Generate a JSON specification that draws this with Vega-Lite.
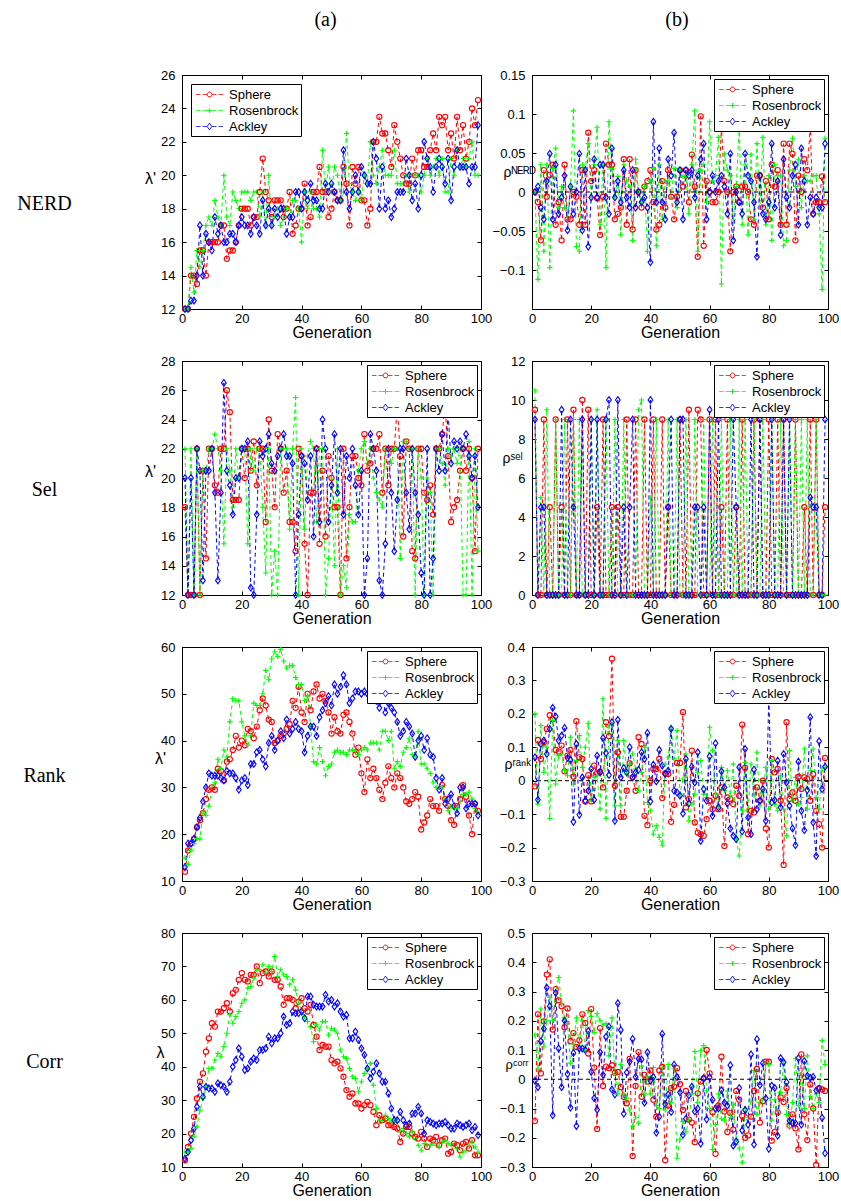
{
"$schema":"https://vega.github.io/schema/vega-lite/v6.json",
"padding":0,
"background":"white",
"config":{
"font":"Liberation Sans",
"view":{"stroke":"black","strokeWidth":1},
"axis":{"grid":false,"tickSize":-4,"tickColor":"black","tickWidth":1,"domainColor":"black","domainWidth":1,"labelFont":"Liberation Sans","labelFontSize":13,"labelColor":"black","titleFont":"Liberation Sans","titleFontSize":16,"titleFontWeight":"normal","titleColor":"black","labelFlush":false,"labelOverlap":false},
"axisX":{"labelPadding":7,"titlePadding":-1},
"axisY":{"labelPadding":11,"titleAngle":0,"titleAlign":"center","titleBaseline":"middle"},
"legend":{"padding":2,"strokeColor":"black","fillColor":"white","cornerRadius":0,"labelFont":"Liberation Sans","labelFontSize":13,"labelColor":"black","symbolSize":256,"symbolStrokeWidth":1,"rowPadding":0,"symbolOffset":8,"labelOffset":11,"offset":4}
},
"datasets":{
"n1":[{"g":1,"S":12,"R":12,"A":12},{"g":2,"S":12,"R":12,"A":12},{"g":3,"S":14,"R":14.5,"A":12.5},{"g":4,"S":14,"R":13,"A":12.5},{"g":5,"S":13.5,"R":15.5,"A":14},{"g":6,"S":15.5,"R":14.5,"A":17},{"g":7,"S":15.5,"R":15.5,"A":14},{"g":8,"S":14,"R":17,"A":16.5},{"g":9,"S":16,"R":17.5,"A":16},{"g":10,"S":16,"R":17,"A":15.5},{"g":11,"S":16,"R":18.5,"A":17.5},{"g":12,"S":16,"R":17.5,"A":16.5},{"g":13,"S":17,"R":17,"A":17},{"g":14,"S":17,"R":20,"A":16},{"g":15,"S":15,"R":17.5,"A":16},{"g":16,"S":15.5,"R":17,"A":16.5},{"g":17,"S":15.5,"R":19,"A":16.5},{"g":18,"S":16,"R":18.5,"A":16},{"g":19,"S":17,"R":18,"A":17},{"g":20,"S":18,"R":19,"A":17.5},{"g":21,"S":18,"R":19,"A":17},{"g":22,"S":18,"R":19,"A":17},{"g":23,"S":17,"R":18.5,"A":16.5},{"g":24,"S":17.5,"R":19,"A":17.5},{"g":25,"S":17.5,"R":19,"A":17},{"g":26,"S":19,"R":17.5,"A":16.5},{"g":27,"S":21,"R":19,"A":18.5},{"g":28,"S":19,"R":17,"A":17},{"g":29,"S":18.5,"R":20,"A":18},{"g":30,"S":17.5,"R":17,"A":17},{"g":31,"S":18.5,"R":17.5,"A":18},{"g":32,"S":18.5,"R":18,"A":17.5},{"g":33,"S":18.5,"R":17,"A":18},{"g":34,"S":17.5,"R":17.5,"A":18},{"g":35,"S":18,"R":18,"A":16.5},{"g":36,"S":19,"R":17.5,"A":17.5},{"g":37,"S":16.5,"R":18.5,"A":17.5},{"g":38,"S":17,"R":18.5,"A":19},{"g":39,"S":18,"R":18,"A":19},{"g":40,"S":18,"R":16,"A":18},{"g":41,"S":19.5,"R":19,"A":19},{"g":42,"S":17,"R":18,"A":18.5},{"g":43,"S":17.5,"R":19,"A":19.5},{"g":44,"S":19,"R":18,"A":18.5},{"g":45,"S":19,"R":18,"A":18.5},{"g":46,"S":20.5,"R":17.5,"A":18},{"g":47,"S":19,"R":21.5,"A":18},{"g":48,"S":19,"R":19,"A":19.5},{"g":49,"S":17.5,"R":20.5,"A":19},{"g":50,"S":18,"R":19,"A":19.5},{"g":51,"S":19,"R":20.5,"A":19},{"g":52,"S":18.5,"R":20,"A":18.5},{"g":53,"S":18.5,"R":18.5,"A":18.5},{"g":54,"S":20.5,"R":19,"A":21.5},{"g":55,"S":19.5,"R":22.5,"A":19},{"g":56,"S":17,"R":19.5,"A":18},{"g":57,"S":20.5,"R":19,"A":19},{"g":58,"S":19.5,"R":18.5,"A":20},{"g":59,"S":20.5,"R":19,"A":19},{"g":60,"S":18.5,"R":18.5,"A":20.5},{"g":61,"S":18.5,"R":20,"A":20},{"g":62,"S":17,"R":19.5,"A":19.5},{"g":63,"S":18,"R":22,"A":19.5},{"g":64,"S":22,"R":20,"A":22},{"g":65,"S":22,"R":19.5,"A":21},{"g":66,"S":23.5,"R":20.5,"A":18},{"g":67,"S":22.5,"R":21.5,"A":20.5},{"g":68,"S":22.5,"R":20,"A":18},{"g":69,"S":21.5,"R":20,"A":18.5},{"g":70,"S":20.5,"R":20,"A":17.5},{"g":71,"S":23,"R":21.5,"A":18},{"g":72,"S":22,"R":19.5,"A":19},{"g":73,"S":21,"R":19.5,"A":19},{"g":74,"S":20,"R":19.5,"A":19},{"g":75,"S":19.5,"R":20,"A":21},{"g":76,"S":19.5,"R":19,"A":20},{"g":77,"S":21,"R":20,"A":18.5},{"g":78,"S":20,"R":20,"A":19.5},{"g":79,"S":21.5,"R":20,"A":18},{"g":80,"S":21.5,"R":19,"A":20},{"g":81,"S":20.5,"R":20,"A":22},{"g":82,"S":20.5,"R":21,"A":21},{"g":83,"S":21.5,"R":20,"A":20.5},{"g":84,"S":22.5,"R":20.5,"A":19},{"g":85,"S":21.5,"R":21,"A":20.5},{"g":86,"S":23.5,"R":20,"A":21},{"g":87,"S":23,"R":21,"A":20.5},{"g":88,"S":23.5,"R":19,"A":19.5},{"g":89,"S":21.5,"R":19,"A":21},{"g":90,"S":22.5,"R":21,"A":18.5},{"g":91,"S":21,"R":20,"A":20.5},{"g":92,"S":23.5,"R":21.5,"A":21.5},{"g":93,"S":21.5,"R":20.5,"A":20.5},{"g":94,"S":23,"R":21,"A":20.5},{"g":95,"S":21,"R":20.5,"A":20.5},{"g":96,"S":22,"R":21,"A":19.5},{"g":97,"S":24,"R":22,"A":20.5},{"g":98,"S":23,"R":20,"A":20.5},{"g":99,"S":24.5,"R":20,"A":23}],
"n2":[{"g":1,"S":0,"R":0,"A":0},{"g":2,"S":-0.013,"R":-0.112,"A":0.007},{"g":3,"S":-0.062,"R":0.035,"A":-0.02},{"g":4,"S":0.028,"R":-0.076,"A":-0.035},{"g":5,"S":-0.006,"R":0.035,"A":0.014},{"g":6,"S":0.022,"R":-0.097,"A":0.049},{"g":7,"S":0.035,"R":0.03,"A":-0.035},{"g":8,"S":-0.042,"R":0.056,"A":0.035},{"g":9,"S":-0.013,"R":-0.02,"A":-0.028},{"g":10,"S":-0.062,"R":0.007,"A":-0.007},{"g":11,"S":0.035,"R":-0.02,"A":0.021},{"g":12,"S":-0.035,"R":-0.035,"A":-0.049},{"g":13,"S":-0.035,"R":0.007,"A":0.007},{"g":14,"S":0,"R":0.104,"A":-0.028},{"g":15,"S":-0.006,"R":-0.07,"A":0},{"g":16,"S":-0.042,"R":-0.076,"A":0.049},{"g":17,"S":0.028,"R":0.035,"A":-0.049},{"g":18,"S":-0.042,"R":0.03,"A":0.028},{"g":19,"S":0.076,"R":0.062,"A":-0.07},{"g":20,"S":0.014,"R":-0.007,"A":-0.007},{"g":21,"S":0.028,"R":0.035,"A":0.042},{"g":22,"S":-0.008,"R":0.083,"A":-0.007},{"g":23,"S":-0.055,"R":-0.042,"A":0.035},{"g":24,"S":-0.006,"R":0.035,"A":0.035},{"g":25,"S":0.062,"R":-0.097,"A":-0.007},{"g":26,"S":0.035,"R":0.09,"A":-0.028},{"g":27,"S":0.035,"R":0.03,"A":0.056},{"g":28,"S":-0.035,"R":-0.007,"A":-0.007},{"g":29,"S":-0.028,"R":0.02,"A":0.014},{"g":30,"S":-0.02,"R":-0.055,"A":-0.013},{"g":31,"S":0.042,"R":0.035,"A":0.028},{"g":32,"S":-0.042,"R":0.014,"A":-0.007},{"g":33,"S":0.042,"R":0.007,"A":-0.02},{"g":34,"S":-0.048,"R":-0.062,"A":0.028},{"g":35,"S":0.028,"R":0.042,"A":-0.02},{"g":36,"S":0,"R":0,"A":0},{"g":37,"S":-0.02,"R":-0.013,"A":-0.013},{"g":38,"S":0.007,"R":0.007,"A":-0.007},{"g":39,"S":0.014,"R":-0.076,"A":-0.02},{"g":40,"S":0.028,"R":0.014,"A":-0.09},{"g":41,"S":-0.013,"R":0.03,"A":0.09},{"g":42,"S":-0.048,"R":-0.069,"A":-0.013},{"g":43,"S":-0.042,"R":0.035,"A":0.056},{"g":44,"S":0.014,"R":-0.035,"A":-0.013},{"g":45,"S":-0.02,"R":0.014,"A":-0.035},{"g":46,"S":0.028,"R":0.014,"A":0.042},{"g":47,"S":-0.006,"R":-0.007,"A":0.021},{"g":48,"S":-0.035,"R":0.03,"A":0.076},{"g":49,"S":-0.006,"R":-0.02,"A":-0.013},{"g":50,"S":0.028,"R":0.028,"A":0.028},{"g":51,"S":0.007,"R":0.02,"A":-0.035},{"g":52,"S":0.028,"R":0.02,"A":0.028},{"g":53,"S":-0.013,"R":-0.028,"A":0.021},{"g":54,"S":0.048,"R":0.035,"A":0.028},{"g":55,"S":0.007,"R":0.104,"A":-0.007},{"g":56,"S":-0.083,"R":-0.076,"A":0.021},{"g":57,"S":0.097,"R":0.028,"A":0.042},{"g":58,"S":-0.069,"R":0.035,"A":0.062},{"g":59,"S":0.014,"R":-0.013,"A":-0.035},{"g":60,"S":0,"R":0.09,"A":0},{"g":61,"S":-0.013,"R":0.014,"A":0.021},{"g":62,"S":-0.013,"R":0.021,"A":0},{"g":63,"S":0,"R":0.07,"A":0.014},{"g":64,"S":0.083,"R":-0.118,"A":0.021},{"g":65,"S":0.014,"R":0.049,"A":0.007},{"g":66,"S":0,"R":0.028,"A":-0.028},{"g":67,"S":-0.076,"R":0.021,"A":0.049},{"g":68,"S":0,"R":-0.035,"A":-0.062},{"g":69,"S":0.007,"R":0.007,"A":0},{"g":70,"S":-0.013,"R":0.083,"A":-0.013},{"g":71,"S":0.007,"R":-0.042,"A":-0.028},{"g":72,"S":0.007,"R":0.035,"A":0.049},{"g":73,"S":0,"R":-0.055,"A":0.021},{"g":74,"S":-0.035,"R":0.048,"A":0.014},{"g":75,"S":-0.042,"R":-0.035,"A":-0.013},{"g":76,"S":0.021,"R":0.062,"A":-0.083},{"g":77,"S":0.021,"R":-0.02,"A":0.021},{"g":78,"S":-0.02,"R":0.07,"A":-0.028},{"g":79,"S":0.014,"R":-0.042,"A":-0.035},{"g":80,"S":-0.035,"R":0.021,"A":-0.013},{"g":81,"S":0.035,"R":-0.062,"A":0.062},{"g":82,"S":0.007,"R":0.035,"A":-0.02},{"g":83,"S":0.028,"R":0.021,"A":0.014},{"g":84,"S":-0.042,"R":0.021,"A":-0.055},{"g":85,"S":0.062,"R":-0.069,"A":0.042},{"g":86,"S":-0.042,"R":-0.062,"A":-0.007},{"g":87,"S":0.062,"R":0.028,"A":-0.02},{"g":88,"S":0.049,"R":0.069,"A":0.021},{"g":89,"S":-0.062,"R":0.007,"A":0.035},{"g":90,"S":0.021,"R":0.042,"A":-0.042},{"g":91,"S":0,"R":-0.02,"A":0.056},{"g":92,"S":0.042,"R":0.021,"A":0.014},{"g":93,"S":0.028,"R":0.014,"A":-0.042},{"g":94,"S":0.083,"R":0.014,"A":-0.007},{"g":95,"S":-0.028,"R":0.021,"A":-0.028},{"g":96,"S":-0.013,"R":0.021,"A":-0.007},{"g":97,"S":-0.013,"R":-0.028,"A":-0.02},{"g":98,"S":0.02,"R":-0.125,"A":-0.02},{"g":99,"S":-0.013,"R":0.069,"A":0.062}],
"n3":[{"g":1,"S":18,"R":22,"A":20},{"g":2,"S":12,"R":12,"A":12},{"g":3,"S":12,"R":22,"A":20},{"g":4,"S":12,"R":12,"A":12},{"g":5,"S":22,"R":22,"A":22},{"g":6,"S":12,"R":12,"A":20.5},{"g":7,"S":20.5,"R":20.5,"A":13},{"g":8,"S":14.5,"R":20.5,"A":20.5},{"g":9,"S":22,"R":22,"A":20.5},{"g":10,"S":22,"R":22,"A":22},{"g":11,"S":19.5,"R":23,"A":19},{"g":12,"S":19,"R":22,"A":13},{"g":13,"S":22,"R":20.5,"A":19},{"g":14,"S":22,"R":15.5,"A":26.5},{"g":15,"S":26,"R":22,"A":20.5},{"g":16,"S":24.5,"R":20.5,"A":19.5},{"g":17,"S":18.5,"R":18,"A":17.5},{"g":18,"S":18.5,"R":22,"A":20},{"g":19,"S":18.5,"R":20,"A":20},{"g":20,"S":22,"R":22,"A":22},{"g":21,"S":20,"R":22,"A":22},{"g":22,"S":22,"R":15.5,"A":22.5},{"g":23,"S":20.5,"R":22,"A":12.5},{"g":24,"S":22.5,"R":20.5,"A":12},{"g":25,"S":19.5,"R":22,"A":17.5},{"g":26,"S":22,"R":22,"A":22.5},{"g":27,"S":22,"R":18,"A":21.5},{"g":28,"S":17,"R":13.5,"A":22},{"g":29,"S":24,"R":22,"A":23},{"g":30,"S":20.5,"R":12,"A":21},{"g":31,"S":18,"R":15,"A":20.5},{"g":32,"S":23,"R":12,"A":21.5},{"g":33,"S":22,"R":22,"A":22},{"g":34,"S":19,"R":22,"A":23},{"g":35,"S":20.5,"R":22,"A":21.5},{"g":36,"S":17,"R":16.5,"A":21.5},{"g":37,"S":17,"R":22,"A":21},{"g":38,"S":15,"R":25.5,"A":12},{"g":39,"S":22,"R":12,"A":17.5},{"g":40,"S":21.5,"R":22,"A":21.5},{"g":41,"S":15.5,"R":16.5,"A":21},{"g":42,"S":12,"R":21.5,"A":18.5},{"g":43,"S":19,"R":22.5,"A":21.5},{"g":44,"S":19,"R":22,"A":16},{"g":45,"S":22,"R":17,"A":22},{"g":46,"S":15.5,"R":22,"A":17},{"g":47,"S":20.5,"R":22,"A":24},{"g":48,"S":16,"R":12,"A":22},{"g":49,"S":21.5,"R":14.5,"A":17},{"g":50,"S":20,"R":20,"A":19.5},{"g":51,"S":18,"R":14,"A":23},{"g":52,"S":18,"R":22,"A":19},{"g":53,"S":12,"R":12,"A":22},{"g":54,"S":22,"R":14,"A":17.5},{"g":55,"S":14.5,"R":12.5,"A":21.5},{"g":56,"S":18,"R":17.5,"A":20},{"g":57,"S":21.5,"R":17,"A":22},{"g":58,"S":21.5,"R":17,"A":19.5},{"g":59,"S":20,"R":20.5,"A":17.5},{"g":60,"S":19.5,"R":22,"A":20.5},{"g":61,"S":23,"R":22.5,"A":12},{"g":62,"S":20.5,"R":21,"A":14.5},{"g":63,"S":21,"R":22,"A":23},{"g":64,"S":22,"R":20,"A":22},{"g":65,"S":22,"R":19,"A":20.5},{"g":66,"S":23,"R":18.5,"A":13},{"g":67,"S":19,"R":18,"A":12},{"g":68,"S":22,"R":22,"A":15.5},{"g":69,"S":19.5,"R":22,"A":22},{"g":70,"S":22,"R":21,"A":19},{"g":71,"S":22,"R":22,"A":15},{"g":72,"S":25,"R":22,"A":18.5},{"g":73,"S":21.5,"R":14.5,"A":22},{"g":74,"S":16,"R":22.5,"A":22},{"g":75,"S":22.5,"R":22.5,"A":19},{"g":76,"S":22,"R":22,"A":16.5},{"g":77,"S":15,"R":22,"A":22},{"g":78,"S":14.5,"R":12,"A":19},{"g":79,"S":22,"R":22,"A":17.5},{"g":80,"S":22,"R":20,"A":13.5},{"g":81,"S":19,"R":12,"A":12},{"g":82,"S":18.5,"R":20,"A":22},{"g":83,"S":19.5,"R":19,"A":12},{"g":84,"S":17.5,"R":12,"A":14.5},{"g":85,"S":22,"R":22,"A":22},{"g":86,"S":22,"R":22,"A":20.5},{"g":87,"S":23,"R":21,"A":23},{"g":88,"S":25,"R":19.5,"A":20.5},{"g":89,"S":21.5,"R":22,"A":24.5},{"g":90,"S":17,"R":21.5,"A":21},{"g":91,"S":18,"R":22,"A":22.5},{"g":92,"S":18.5,"R":21,"A":22},{"g":93,"S":20.5,"R":22,"A":22.5},{"g":94,"S":22,"R":12,"A":22},{"g":95,"S":20.5,"R":12,"A":23},{"g":96,"S":22,"R":22.5,"A":21.5},{"g":97,"S":20,"R":12,"A":20},{"g":98,"S":15,"R":22,"A":21.5},{"g":99,"S":22,"R":15,"A":18}],
"n4":[{"g":1,"S":9.5,"R":10.5,"A":9},{"g":2,"S":0,"R":0,"A":0},{"g":3,"S":0,"R":5,"A":4.5},{"g":4,"S":9,"R":0,"A":4.5},{"g":5,"S":0,"R":9.5,"A":0},{"g":6,"S":4.5,"R":0,"A":0},{"g":7,"S":0,"R":0,"A":0},{"g":8,"S":9,"R":9,"A":0},{"g":9,"S":0,"R":0,"A":0},{"g":10,"S":4.5,"R":0,"A":9.5},{"g":11,"S":0,"R":9,"A":0},{"g":12,"S":9,"R":0,"A":0},{"g":13,"S":0,"R":0,"A":9},{"g":14,"S":9.5,"R":9,"A":4.5},{"g":15,"S":0,"R":0,"A":0},{"g":16,"S":0,"R":9,"A":0},{"g":17,"S":10,"R":0,"A":9},{"g":18,"S":0,"R":0,"A":0},{"g":19,"S":9.5,"R":0,"A":0},{"g":20,"S":0,"R":9,"A":9},{"g":21,"S":0,"R":0,"A":0},{"g":22,"S":4.5,"R":9.5,"A":9},{"g":23,"S":0,"R":0,"A":0},{"g":24,"S":9,"R":0,"A":0},{"g":25,"S":0,"R":9,"A":9},{"g":26,"S":0,"R":0,"A":10},{"g":27,"S":4.5,"R":0,"A":0},{"g":28,"S":0,"R":9,"A":0},{"g":29,"S":4.5,"R":0,"A":10},{"g":30,"S":0,"R":0,"A":0},{"g":31,"S":0,"R":9,"A":4.5},{"g":32,"S":9,"R":0,"A":0},{"g":33,"S":0,"R":0,"A":4.5},{"g":34,"S":0,"R":0,"A":9},{"g":35,"S":9,"R":0,"A":0},{"g":36,"S":0,"R":9.5,"A":0},{"g":37,"S":0,"R":10,"A":0},{"g":38,"S":9,"R":0,"A":0},{"g":39,"S":0,"R":0,"A":0},{"g":40,"S":0,"R":5,"A":10},{"g":41,"S":9,"R":0,"A":0},{"g":42,"S":0,"R":9,"A":0},{"g":43,"S":0,"R":0,"A":0},{"g":44,"S":9,"R":0,"A":0},{"g":45,"S":0,"R":0,"A":0},{"g":46,"S":4.5,"R":9,"A":4.5},{"g":47,"S":0,"R":0,"A":9},{"g":48,"S":0,"R":0,"A":0},{"g":49,"S":0,"R":9,"A":0},{"g":50,"S":9,"R":0,"A":9},{"g":51,"S":0,"R":0,"A":9},{"g":52,"S":0,"R":9,"A":0},{"g":53,"S":9.5,"R":0,"A":0},{"g":54,"S":0,"R":0,"A":0},{"g":55,"S":0,"R":9,"A":4.5},{"g":56,"S":9.5,"R":0,"A":4.5},{"g":57,"S":9,"R":0,"A":0},{"g":58,"S":0,"R":9,"A":4.5},{"g":59,"S":0,"R":0,"A":0},{"g":60,"S":9,"R":0,"A":9.5},{"g":61,"S":0,"R":9,"A":0},{"g":62,"S":9,"R":0,"A":0},{"g":63,"S":0,"R":0,"A":9},{"g":64,"S":4.5,"R":9,"A":0},{"g":65,"S":0,"R":0,"A":0},{"g":66,"S":9,"R":0,"A":0},{"g":67,"S":0,"R":9,"A":0},{"g":68,"S":0,"R":0,"A":9},{"g":69,"S":4.5,"R":0,"A":4.5},{"g":70,"S":0,"R":9,"A":0},{"g":71,"S":9,"R":0,"A":0},{"g":72,"S":0,"R":9,"A":0},{"g":73,"S":0,"R":0,"A":0},{"g":74,"S":0,"R":0,"A":9},{"g":75,"S":9,"R":9,"A":0},{"g":76,"S":0,"R":0,"A":0},{"g":77,"S":9,"R":0,"A":9},{"g":78,"S":0,"R":9,"A":0},{"g":79,"S":0,"R":0,"A":0},{"g":80,"S":9,"R":0,"A":0},{"g":81,"S":0,"R":9,"A":9},{"g":82,"S":0,"R":0,"A":0},{"g":83,"S":9,"R":0,"A":0},{"g":84,"S":0,"R":9,"A":0},{"g":85,"S":9,"R":0,"A":9},{"g":86,"S":0,"R":0,"A":0},{"g":87,"S":0,"R":9,"A":9},{"g":88,"S":0,"R":0,"A":0},{"g":89,"S":9,"R":9,"A":0},{"g":90,"S":0,"R":0,"A":0},{"g":91,"S":0,"R":9,"A":0},{"g":92,"S":4.5,"R":0,"A":0},{"g":93,"S":0,"R":9,"A":0},{"g":94,"S":9,"R":0,"A":5},{"g":95,"S":0,"R":0,"A":4.5},{"g":96,"S":9,"R":9,"A":4.5},{"g":97,"S":0,"R":0,"A":0},{"g":98,"S":0,"R":0,"A":0},{"g":99,"S":4.5,"R":0,"A":9}],
"n5":[{"g":1,"S":12,"R":15,"A":13},{"g":2,"S":16.5,"R":13.5,"A":18},{"g":3,"S":18,"R":16.5,"A":18},{"g":4,"S":19,"R":18,"A":19},{"g":5,"S":21.5,"R":19,"A":21.5},{"g":6,"S":23,"R":19,"A":23.5},{"g":7,"S":24.5,"R":24.5,"A":27},{"g":8,"S":27.5,"R":24,"A":30},{"g":9,"S":29.5,"R":26,"A":33},{"g":10,"S":30,"R":30,"A":32.5},{"g":11,"S":29.5,"R":31,"A":32.5},{"g":12,"S":34,"R":36,"A":32.5},{"g":13,"S":33.5,"R":34,"A":32},{"g":14,"S":31.5,"R":38,"A":31.5},{"g":15,"S":35.5,"R":36.5,"A":33.5},{"g":16,"S":36,"R":44,"A":33},{"g":17,"S":38,"R":49,"A":33},{"g":18,"S":41,"R":48.5,"A":32},{"g":19,"S":38.5,"R":48.5,"A":29.5},{"g":20,"S":40,"R":44,"A":31.5},{"g":21,"S":39,"R":41,"A":32},{"g":22,"S":42.5,"R":39,"A":30.5},{"g":23,"S":42,"R":41,"A":35},{"g":24,"S":40.5,"R":48,"A":35},{"g":25,"S":43,"R":47.5,"A":37.5},{"g":26,"S":46.5,"R":47.5,"A":38},{"g":27,"S":49,"R":50,"A":36},{"g":28,"S":47.5,"R":55,"A":34.5},{"g":29,"S":44.5,"R":53,"A":39.5},{"g":30,"S":44,"R":57.5,"A":41},{"g":31,"S":39.5,"R":59,"A":38},{"g":32,"S":40,"R":58,"A":40},{"g":33,"S":41,"R":59.5,"A":42},{"g":34,"S":41.5,"R":57,"A":40.5},{"g":35,"S":42.5,"R":55.5,"A":44.5},{"g":36,"S":43.5,"R":56,"A":41.5},{"g":37,"S":48.5,"R":56,"A":42.5},{"g":38,"S":47,"R":53.5,"A":44},{"g":39,"S":51.5,"R":52,"A":42.5},{"g":40,"S":46,"R":52,"A":42},{"g":41,"S":44,"R":48.5,"A":37.5},{"g":42,"S":50,"R":49.5,"A":41},{"g":43,"S":46.5,"R":43,"A":43},{"g":44,"S":50.5,"R":35.5,"A":43},{"g":45,"S":52,"R":35,"A":41},{"g":46,"S":49,"R":38.5,"A":45},{"g":47,"S":50,"R":35.5,"A":46.5},{"g":48,"S":48.5,"R":32.5,"A":48},{"g":49,"S":46,"R":34.5,"A":49.5},{"g":50,"S":41.5,"R":35,"A":47.5},{"g":51,"S":45,"R":37.5,"A":52},{"g":52,"S":42,"R":38,"A":50},{"g":53,"S":41.5,"R":37.5,"A":51.5},{"g":54,"S":45.5,"R":37.5,"A":54},{"g":55,"S":46,"R":37,"A":52},{"g":56,"S":44,"R":38,"A":48},{"g":57,"S":41.5,"R":38,"A":49},{"g":58,"S":37,"R":38,"A":50.5},{"g":59,"S":38.5,"R":37,"A":50.5},{"g":60,"S":33,"R":38,"A":50},{"g":61,"S":29,"R":38.5,"A":50.5},{"g":62,"S":36,"R":38,"A":50},{"g":63,"S":32,"R":39.5,"A":50},{"g":64,"S":34,"R":39.5,"A":49},{"g":65,"S":32,"R":39.5,"A":48.5},{"g":66,"S":29.5,"R":38,"A":47},{"g":67,"S":27.5,"R":42,"A":49.5},{"g":68,"S":31,"R":42,"A":46},{"g":69,"S":34.5,"R":40,"A":48},{"g":70,"S":32,"R":42,"A":47},{"g":71,"S":30,"R":34,"A":46},{"g":72,"S":33,"R":35.5,"A":44},{"g":73,"S":32,"R":34.5,"A":41},{"g":74,"S":30,"R":37.5,"A":42},{"g":75,"S":27,"R":38.5,"A":44},{"g":76,"S":26.5,"R":40.5,"A":43},{"g":77,"S":27.5,"R":37,"A":41.5},{"g":78,"S":29,"R":36.5,"A":36.5},{"g":79,"S":28,"R":42,"A":40},{"g":80,"S":21,"R":35,"A":41},{"g":81,"S":22.5,"R":35,"A":38},{"g":82,"S":24,"R":34,"A":40.5},{"g":83,"S":27.5,"R":33,"A":37},{"g":84,"S":26,"R":31,"A":36.5},{"g":85,"S":26,"R":30,"A":32},{"g":86,"S":25,"R":30,"A":29.5},{"g":87,"S":30.5,"R":30,"A":32},{"g":88,"S":27.5,"R":27.5,"A":26.5},{"g":89,"S":26,"R":25,"A":27.5},{"g":90,"S":23,"R":26,"A":28.5},{"g":91,"S":22,"R":25.5,"A":26},{"g":92,"S":26,"R":25.5,"A":24.5},{"g":93,"S":27.5,"R":27,"A":30},{"g":94,"S":30.5,"R":28.5,"A":30},{"g":95,"S":28,"R":28.5,"A":25.5},{"g":96,"S":24,"R":29,"A":26.5},{"g":97,"S":20,"R":27.5,"A":26.5},{"g":98,"S":26.5,"R":25.5,"A":26.5},{"g":99,"S":25,"R":24.5,"A":24}],
"n6":[{"g":1,"S":-0.017,"R":0.2,"A":0.07},{"g":2,"S":0.122,"R":-0.07,"A":-0.057},{"g":3,"S":0.065,"R":0.165,"A":0.11},{"g":4,"S":0.115,"R":0.025,"A":0.12},{"g":5,"S":0.155,"R":0.1,"A":0.08},{"g":6,"S":0.196,"R":-0.113,"A":0.155},{"g":7,"S":0.184,"R":0.18,"A":0.218},{"g":8,"S":0.092,"R":-0.01,"A":0.192},{"g":9,"S":0.087,"R":0.075,"A":0.12},{"g":10,"S":0.105,"R":0.08,"A":0.135},{"g":11,"S":0.028,"R":0.03,"A":0.158},{"g":12,"S":0.075,"R":0.015,"A":0.068},{"g":13,"S":0.092,"R":0.13,"A":0.062},{"g":14,"S":0.012,"R":-0.01,"A":-0.123},{"g":15,"S":0.178,"R":0.06,"A":0.11},{"g":16,"S":0.07,"R":0.135,"A":-0.102},{"g":17,"S":0.065,"R":0.04,"A":0.01},{"g":18,"S":-0.062,"R":0.1,"A":-0.06},{"g":19,"S":0.017,"R":0.172,"A":-0.03},{"g":20,"S":-0.062,"R":-0.06,"A":0.035},{"g":21,"S":0.045,"R":0.01,"A":-0.057},{"g":22,"S":0.023,"R":0.015,"A":0.075},{"g":23,"S":0.027,"R":-0.085,"A":0.025},{"g":24,"S":-0.02,"R":0.245,"A":0.128},{"g":25,"S":0.175,"R":-0.113,"A":0.083},{"g":26,"S":0.133,"R":0.165,"A":0.017},{"g":27,"S":0.365,"R":0.17,"A":0.175},{"g":28,"S":-0.015,"R":-0.075,"A":-0.12},{"g":29,"S":0.085,"R":0.12,"A":0.182},{"g":30,"S":-0.108,"R":-0.075,"A":0.01},{"g":31,"S":-0.108,"R":0.12,"A":0.038},{"g":32,"S":-0.03,"R":0.02,"A":0.025},{"g":33,"S":0.052,"R":0.05,"A":0.1},{"g":34,"S":0.01,"R":0.08,"A":0.01},{"g":35,"S":-0.03,"R":0.035,"A":0.025},{"g":36,"S":0.13,"R":-0.03,"A":0.032},{"g":37,"S":0.11,"R":0.025,"A":0.085},{"g":38,"S":-0.105,"R":0.1,"A":0.065},{"g":39,"S":-0.133,"R":-0.065,"A":0.143},{"g":40,"S":0,"R":-0.09,"A":-0.062},{"g":41,"S":0.035,"R":-0.16,"A":0.048},{"g":42,"S":0.035,"R":-0.135,"A":-0.002},{"g":43,"S":0.065,"R":-0.17,"A":0.092},{"g":44,"S":-0.052,"R":-0.193,"A":0.045},{"g":45,"S":0.022,"R":0.05,"A":0.02},{"g":46,"S":0.02,"R":0.07,"A":0.03},{"g":47,"S":-0.123,"R":0.16,"A":0.155},{"g":48,"S":-0.072,"R":0.065,"A":-0.03},{"g":49,"S":0.053,"R":0.15,"A":-0.035},{"g":50,"S":0.053,"R":-0.04,"A":-0.045},{"g":51,"S":0.205,"R":0.005,"A":-0.098},{"g":52,"S":-0.08,"R":0.08,"A":0.065},{"g":53,"S":-0.055,"R":-0.12,"A":-0.068},{"g":54,"S":0.09,"R":-0.07,"A":0.042},{"g":55,"S":-0.125,"R":-0.04,"A":-0.005},{"g":56,"S":-0.155,"R":0.025,"A":0.085},{"g":57,"S":-0.16,"R":0.06,"A":-0.18},{"g":58,"S":-0.165,"R":-0.04,"A":-0.025},{"g":59,"S":-0.115,"R":-0.05,"A":-0.06},{"g":60,"S":-0.06,"R":0.16,"A":0.073},{"g":61,"S":-0.085,"R":0.09,"A":-0.105},{"g":62,"S":-0.045,"R":-0.04,"A":0.112},{"g":63,"S":-0.085,"R":-0.075,"A":-0.08},{"g":64,"S":-0.02,"R":0.04,"A":0.028},{"g":65,"S":-0.195,"R":-0.03,"A":-0.02},{"g":66,"S":-0.05,"R":0.03,"A":-0.068},{"g":67,"S":-0.055,"R":-0.045,"A":-0.143},{"g":68,"S":-0.07,"R":0.05,"A":-0.165},{"g":69,"S":-0.015,"R":-0.175,"A":-0.175},{"g":70,"S":-0.045,"R":-0.225,"A":0.04},{"g":71,"S":0.168,"R":-0.09,"A":-0.152},{"g":72,"S":0.038,"R":0.055,"A":0.095},{"g":73,"S":-0.16,"R":-0.09,"A":-0.11},{"g":74,"S":-0.09,"R":0.05,"A":-0.16},{"g":75,"S":-0.095,"R":-0.045,"A":0.033},{"g":76,"S":-0.02,"R":0.085,"A":-0.085},{"g":77,"S":-0.06,"R":-0.075,"A":-0.06},{"g":78,"S":0,"R":-0.035,"A":-0.025},{"g":79,"S":-0.143,"R":0.04,"A":-0.12},{"g":80,"S":-0.2,"R":-0.085,"A":0.25},{"g":81,"S":0.065,"R":0.06,"A":-0.065},{"g":82,"S":0.025,"R":-0.07,"A":-0.058},{"g":83,"S":0.035,"R":-0.09,"A":0.06},{"g":84,"S":-0.06,"R":0.015,"A":-0.08},{"g":85,"S":-0.252,"R":-0.085,"A":0.08},{"g":86,"S":0.175,"R":-0.165,"A":-0.005},{"g":87,"S":-0.055,"R":0.09,"A":-0.075},{"g":88,"S":-0.035,"R":-0.06,"A":-0.143},{"g":89,"S":-0.06,"R":0.01,"A":-0.193},{"g":90,"S":0.012,"R":-0.07,"A":0.057},{"g":91,"S":-0.025,"R":-0.05,"A":-0.09},{"g":92,"S":0.01,"R":0.095,"A":-0.148},{"g":93,"S":0.005,"R":-0.085,"A":-0.028},{"g":94,"S":-0.06,"R":0.03,"A":0.19},{"g":95,"S":0.02,"R":0.095,"A":-0.125},{"g":96,"S":-0.09,"R":-0.05,"A":-0.225},{"g":97,"S":-0.13,"R":-0.085,"A":0.118},{"g":98,"S":-0.2,"R":0.03,"A":-0.025},{"g":99,"S":0.068,"R":0.04,"A":0.042}],
"n7":[{"g":1,"S":12,"R":14.5,"A":12.5},{"g":2,"S":16,"R":14.5,"A":14.5},{"g":3,"S":20,"R":15.5,"A":18},{"g":4,"S":25,"R":19,"A":21.5},{"g":5,"S":30.5,"R":22,"A":28},{"g":6,"S":35.5,"R":27,"A":34},{"g":7,"S":38,"R":30.5,"A":31},{"g":8,"S":44.5,"R":34,"A":34},{"g":9,"S":48.5,"R":39.5,"A":33.5},{"g":10,"S":53,"R":39.5,"A":33.5},{"g":11,"S":52,"R":42,"A":32.5},{"g":12,"S":56.5,"R":44,"A":35},{"g":13,"S":56.5,"R":43,"A":34.5},{"g":14,"S":57.5,"R":46,"A":34},{"g":15,"S":59,"R":50,"A":32.5},{"g":16,"S":56.5,"R":55.5,"A":35.5},{"g":17,"S":62,"R":53,"A":40},{"g":18,"S":63,"R":55,"A":42},{"g":19,"S":66,"R":56.5,"A":45.5},{"g":20,"S":68,"R":59,"A":43},{"g":21,"S":66,"R":60,"A":39},{"g":22,"S":65.5,"R":63.5,"A":39.5},{"g":23,"S":67.5,"R":64,"A":41.5},{"g":24,"S":67.5,"R":66.5,"A":42.5},{"g":25,"S":70,"R":69,"A":42},{"g":26,"S":65,"R":69,"A":45},{"g":27,"S":68,"R":70.5,"A":45},{"g":28,"S":68.5,"R":68,"A":45.5},{"g":29,"S":67,"R":70,"A":49},{"g":30,"S":68.5,"R":68.5,"A":47},{"g":31,"S":66,"R":73,"A":48.5},{"g":32,"S":66,"R":67,"A":48.5},{"g":33,"S":64,"R":69,"A":50},{"g":34,"S":58.5,"R":67.5,"A":55},{"g":35,"S":60.5,"R":67,"A":52.5},{"g":36,"S":60.5,"R":64.5,"A":53},{"g":37,"S":60,"R":66,"A":56.5},{"g":38,"S":57.5,"R":63,"A":56},{"g":39,"S":59.5,"R":59,"A":56},{"g":40,"S":60.5,"R":57,"A":56.5},{"g":41,"S":57.5,"R":55,"A":54.5},{"g":42,"S":56.5,"R":53.5,"A":61},{"g":43,"S":58.5,"R":52,"A":61},{"g":44,"S":52.5,"R":47.5,"A":58.5},{"g":45,"S":49,"R":52.5,"A":58},{"g":46,"S":45,"R":51,"A":58},{"g":47,"S":46.5,"R":53.5,"A":58},{"g":48,"S":46,"R":53.5,"A":61.5},{"g":49,"S":46,"R":49.5,"A":59.5},{"g":50,"S":42,"R":51.5,"A":60},{"g":51,"S":41,"R":51,"A":58},{"g":52,"S":41.5,"R":50,"A":59},{"g":53,"S":39.5,"R":45,"A":56.5},{"g":54,"S":37,"R":43,"A":55},{"g":55,"S":33,"R":42.5,"A":55.5},{"g":56,"S":31,"R":39.5,"A":48.5},{"g":57,"S":32,"R":37,"A":48.5},{"g":58,"S":29,"R":36.5,"A":50.5},{"g":59,"S":29,"R":32.5,"A":48},{"g":60,"S":27.5,"R":35.5,"A":45.5},{"g":61,"S":28.5,"R":38,"A":43.5},{"g":62,"S":29.5,"R":39.5,"A":39.5},{"g":63,"S":28.5,"R":41,"A":36.5},{"g":64,"S":26.5,"R":34.5,"A":38.5},{"g":65,"S":22.5,"R":27.5,"A":41},{"g":66,"S":25.5,"R":23,"A":38},{"g":67,"S":24,"R":24,"A":35.5},{"g":68,"S":24.5,"R":25.5,"A":35.5},{"g":69,"S":22.5,"R":24.5,"A":32},{"g":70,"S":22.5,"R":23.5,"A":27.5},{"g":71,"S":22,"R":24,"A":24},{"g":72,"S":21.5,"R":23.5,"A":24},{"g":73,"S":17.5,"R":20.5,"A":26.5},{"g":74,"S":20,"R":21.5,"A":24},{"g":75,"S":22,"R":20,"A":22.5},{"g":76,"S":22,"R":19,"A":23},{"g":77,"S":20,"R":20.5,"A":26},{"g":78,"S":19,"R":18.5,"A":26},{"g":79,"S":18.5,"R":16.5,"A":28},{"g":80,"S":20.5,"R":15,"A":26},{"g":81,"S":18.5,"R":17,"A":20},{"g":82,"S":16,"R":16.5,"A":24},{"g":83,"S":18.5,"R":16.5,"A":23.5},{"g":84,"S":18,"R":17,"A":23},{"g":85,"S":19,"R":16.5,"A":22.5},{"g":86,"S":16.5,"R":16,"A":23},{"g":87,"S":18,"R":17.5,"A":23},{"g":88,"S":18.5,"R":18,"A":23.5},{"g":89,"S":14,"R":17,"A":22.5},{"g":90,"S":14.5,"R":16.5,"A":21.5},{"g":91,"S":17,"R":17,"A":21.5},{"g":92,"S":16.5,"R":15.5,"A":23},{"g":93,"S":15,"R":13,"A":22.5},{"g":94,"S":17,"R":14.5,"A":22},{"g":95,"S":17.5,"R":15,"A":22.5},{"g":96,"S":15.5,"R":16.5,"A":23},{"g":97,"S":18,"R":17.5,"A":21},{"g":98,"S":13.5,"R":16,"A":22},{"g":99,"S":13.5,"R":14.5,"A":19.5}],
"n8":[{"g":1,"S":-0.143,"R":0.152,"A":-0.005},{"g":2,"S":0.222,"R":0.035,"A":-0.027},{"g":3,"S":0.02,"R":0.24,"A":0.13},{"g":4,"S":0.198,"R":0.11,"A":0.173},{"g":5,"S":0.358,"R":0.2,"A":0.313},{"g":6,"S":0.41,"R":0.28,"A":0.25},{"g":7,"S":0.17,"R":0.2,"A":-0.123},{"g":8,"S":0.308,"R":0.3,"A":0.295},{"g":9,"S":0.27,"R":0.348,"A":0.105},{"g":10,"S":0.25,"R":0.26,"A":-0.027},{"g":11,"S":0.178,"R":0.21,"A":0.2},{"g":12,"S":0.242,"R":0.19,"A":0.018},{"g":13,"S":0.13,"R":0.055,"A":-0.097},{"g":14,"S":0.158,"R":0.12,"A":0.09},{"g":15,"S":0.11,"R":0.21,"A":-0.16},{"g":16,"S":0.133,"R":0.1,"A":0.105},{"g":17,"S":0.222,"R":0.2,"A":0.105},{"g":18,"S":0.192,"R":0.098,"A":0.1},{"g":19,"S":0.088,"R":0.235,"A":0.165},{"g":20,"S":0.24,"R":0.215,"A":0.025},{"g":21,"S":0.04,"R":0.16,"A":-0.065},{"g":22,"S":-0.17,"R":0.225,"A":-0.104},{"g":23,"S":0.175,"R":0.2,"A":0.092},{"g":24,"S":-0.023,"R":0.185,"A":0.015},{"g":25,"S":0.043,"R":0.19,"A":0.145},{"g":26,"S":0.038,"R":0.08,"A":0.18},{"g":27,"S":0.048,"R":0.21,"A":-0.035},{"g":28,"S":0.022,"R":0.02,"A":-0.052},{"g":29,"S":0.025,"R":-0.05,"A":0.26},{"g":30,"S":-0.027,"R":0.05,"A":0.168},{"g":31,"S":-0.06,"R":-0.05,"A":-0.118},{"g":32,"S":-0.082,"R":-0.065,"A":0.023},{"g":33,"S":0.07,"R":-0.105,"A":0.06},{"g":34,"S":-0.262,"R":-0.16,"A":0.138},{"g":35,"S":-0.023,"R":-0.13,"A":0.008},{"g":36,"S":0.093,"R":-0.15,"A":0.07},{"g":37,"S":-0.06,"R":0.045,"A":0.068},{"g":38,"S":0.015,"R":-0.05,"A":-0.08},{"g":39,"S":-0.008,"R":0.01,"A":0.092},{"g":40,"S":0.03,"R":-0.05,"A":-0.005},{"g":41,"S":-0.07,"R":0.04,"A":0.008},{"g":42,"S":-0.128,"R":-0.09,"A":-0.183},{"g":43,"S":0.03,"R":-0.1,"A":-0.128},{"g":44,"S":0.042,"R":0.04,"A":0.155},{"g":45,"S":-0.277,"R":-0.105,"A":-0.085},{"g":46,"S":-0.09,"R":0.05,"A":-0.052},{"g":47,"S":-0.03,"R":-0.08,"A":-0.112},{"g":48,"S":-0.025,"R":0.035,"A":0.05},{"g":49,"S":0.038,"R":-0.27,"A":0.007},{"g":50,"S":-0.017,"R":-0.205,"A":-0.045},{"g":51,"S":-0.105,"R":-0.145,"A":-0.19},{"g":52,"S":-0.04,"R":-0.18,"A":-0.135},{"g":53,"S":-0.138,"R":-0.14,"A":-0.055},{"g":54,"S":-0.148,"R":-0.05,"A":-0.025},{"g":55,"S":-0.215,"R":0.095,"A":-0.11},{"g":56,"S":-0.048,"R":-0.08,"A":-0.1},{"g":57,"S":-0.008,"R":0.097,"A":-0.22},{"g":58,"S":0.003,"R":0.115,"A":0.003},{"g":59,"S":0.1,"R":-0.04,"A":-0.137},{"g":60,"S":0.02,"R":-0.1,"A":0.007},{"g":61,"S":-0.113,"R":-0.24,"A":-0.07},{"g":62,"S":-0.255,"R":-0.155,"A":-0.1},{"g":63,"S":-0.09,"R":-0.05,"A":-0.1},{"g":64,"S":0.077,"R":-0.135,"A":-0.037},{"g":65,"S":-0.11,"R":-0.14,"A":-0.08},{"g":66,"S":-0.18,"R":-0.04,"A":-0.09},{"g":67,"S":-0.115,"R":-0.13,"A":0.048},{"g":68,"S":-0.172,"R":-0.085,"A":-0.227},{"g":69,"S":-0.04,"R":-0.205,"A":-0.213},{"g":70,"S":-0.07,"R":-0.235,"A":-0.03},{"g":71,"S":-0.125,"R":-0.285,"A":-0.175},{"g":72,"S":-0.2,"R":-0.1,"A":-0.105},{"g":73,"S":-0.192,"R":-0.13,"A":-0.155},{"g":74,"S":-0.128,"R":-0.075,"A":0.085},{"g":75,"S":-0.04,"R":0.03,"A":-0.223},{"g":76,"S":0.035,"R":-0.12,"A":0.137},{"g":77,"S":-0.148,"R":-0.08,"A":-0.02},{"g":78,"S":-0.075,"R":-0.07,"A":0.055},{"g":79,"S":0.06,"R":0.055,"A":-0.065},{"g":80,"S":0.06,"R":0.05,"A":-0.238},{"g":81,"S":-0.21,"R":-0.14,"A":-0.022},{"g":82,"S":-0.18,"R":-0.07,"A":-0.03},{"g":83,"S":-0.113,"R":-0.11,"A":-0.193},{"g":84,"S":-0.062,"R":-0.045,"A":0.072},{"g":85,"S":-0.078,"R":0.06,"A":0.058},{"g":86,"S":-0.03,"R":-0.12,"A":-0.01},{"g":87,"S":-0.158,"R":-0.165,"A":-0.142},{"g":88,"S":-0.12,"R":-0.08,"A":-0.15},{"g":89,"S":-0.168,"R":0.07,"A":-0.15},{"g":90,"S":-0.24,"R":-0.09,"A":0.072},{"g":91,"S":0.085,"R":0.02,"A":-0.155},{"g":92,"S":-0.12,"R":-0.1,"A":0.062},{"g":93,"S":-0.208,"R":0.08,"A":0.012},{"g":94,"S":-0.018,"R":-0.06,"A":0.005},{"g":95,"S":-0.1,"R":-0.1,"A":0.008},{"g":96,"S":-0.293,"R":-0.05,"A":-0.038},{"g":97,"S":-0.03,"R":-0.08,"A":-0.032},{"g":98,"S":-0.035,"R":0.133,"A":-0.132},{"g":99,"S":-0.04,"R":0.05,"A":-0.253}]
},
"columns":3,
"spacing":{"row":52,"column":51},
"bounds":"flush",
"concat":[
{"width":131,"height":23,"view":{"stroke":null},"data":{"values":[{"t":""}]},"mark":{"type":"text"},"encoding":{"text":{"field":"t"}}},
{"width":299,"height":23,"view":{"stroke":null},"data":{"values":[{"t":"(a)"}]},"mark":{"type":"text","font":"Liberation Serif","fontSize":20,"color":"black","dx":-6,"dy":8},"encoding":{"text":{"field":"t"}}},
{"width":296,"height":23,"view":{"stroke":null},"data":{"values":[{"t":"(b)"}]},"mark":{"type":"text","font":"Liberation Serif","fontSize":20,"color":"black","dx":-3,"dy":8},"encoding":{"text":{"field":"t"}}},

{"width":131,"height":234,"view":{"stroke":null},"data":{"values":[{"t":"NERD"}]},"mark":{"type":"text","font":"Liberation Serif","fontSize":20,"color":"black","dx":-21,"dy":12},"encoding":{"text":{"field":"t"}}},
{"width":299,"height":234,"data":{"name":"n1"},"transform":[{"fold":["S","R","A"],"as":["f","v"]}],
"encoding":{"color":{"field":"f","type":"nominal","scale":{"domain":["S","R","A"],"range":["#ff0000","#00ff00","#0000ff"]},"legend":{"title":null,"orient":"top-left","offset":9,"labelExpr":"datum.label=='S'?'Sphere':datum.label=='R'?'Rosenbrock':'Ackley'","encode":{"symbols":{"update":{"shape":{"signal":"datum.value=='S'?'M-1.65,0H-1.15M-0.85,0H-0.35M0.35,0H0.85M1.15,0H1.65M0.3,0A0.3,0.3,0,1,1,-0.3,0A0.3,0.3,0,1,1,0.3,0':datum.value=='R'?'M-1.65,0H-1.15M-0.85,0H-0.35M0.35,0H0.85M1.15,0H1.65M-0.3,0H0.3M0,-0.3V0.3':'M-1.65,0H-1.15M-0.85,0H-0.35M0.35,0H0.85M1.15,0H1.65M0,-0.42L0.3,0L0,0.42L-0.3,0Z'"},"fill":{"value":"transparent"},"strokeDash":{"value":[1,0]}}}}}}},
"layer":[
{"mark":{"type":"line","strokeDash":[4,3],"strokeWidth":1},"encoding":{"x":{"field":"g","type":"quantitative","scale":{"domain":[0,100],"nice":false},"axis":{"orient":"bottom","values":[0,20,40,60,80,100],"format":"~f","title":"Generation"}},"y":{"field":"v","type":"quantitative","scale":{"domain":[12,26],"nice":false,"zero":false},"axis":{"orient":"left","values":[12,14,16,18,20,22,24,26],"format":"~f","title":"λ'","titleX":-32,"titleY":103}}}},
{"mark":{"type":"point","filled":false,"size":27,"strokeWidth":1.1,"opacity":1},"encoding":{"shape":{"field":"f","type":"nominal","scale":{"domain":["S","R","A"],"range":["circle","M-1,0H1M0,-1V1","M0,-1.3L0.9,0L0,1.3L-0.9,0Z"]},"legend":null},"x":{"field":"g","type":"quantitative","axis":{"orient":"top","values":[0,20,40,60,80,100],"labels":false,"title":null,"domain":false}},"y":{"field":"v","type":"quantitative","axis":{"orient":"right","values":[12,14,16,18,20,22,24,26],"labels":false,"title":null,"domain":false}}}}
],
"resolve":{"axis":{"x":"independent","y":"independent"}}},
{"width":296,"height":234,"data":{"name":"n2"},"transform":[{"fold":["S","R","A"],"as":["f","v"]}],
"encoding":{"color":{"field":"f","type":"nominal","scale":{"domain":["S","R","A"],"range":["#ff0000","#00ff00","#0000ff"]},"legend":{"title":null,"orient":"top-right","labelExpr":"datum.label=='S'?'Sphere':datum.label=='R'?'Rosenbrock':'Ackley'","encode":{"symbols":{"update":{"shape":{"signal":"datum.value=='S'?'M-1.65,0H-1.15M-0.85,0H-0.35M0.35,0H0.85M1.15,0H1.65M0.3,0A0.3,0.3,0,1,1,-0.3,0A0.3,0.3,0,1,1,0.3,0':datum.value=='R'?'M-1.65,0H-1.15M-0.85,0H-0.35M0.35,0H0.85M1.15,0H1.65M-0.3,0H0.3M0,-0.3V0.3':'M-1.65,0H-1.15M-0.85,0H-0.35M0.35,0H0.85M1.15,0H1.65M0,-0.42L0.3,0L0,0.42L-0.3,0Z'"},"fill":{"value":"transparent"},"strokeDash":{"value":[1,0]}}}}}}},
"layer":[
{"mark":{"type":"line","strokeDash":[4,3],"strokeWidth":1},"encoding":{"x":{"field":"g","type":"quantitative","scale":{"domain":[0,100],"nice":false},"axis":{"orient":"bottom","values":[0,20,40,60,80,100],"format":"~f","title":"Generation"}},"y":{"field":"v","type":"quantitative","scale":{"domain":[-0.15,0.15],"nice":false,"zero":false},"axis":{"orient":"left","values":[-0.1,-0.05,0,0.05,0.1,0.15],"format":"~f","title":"ρᴺᴱᴿᴰ","titleFontSize":14,"titleAlign":"left","titleX":-29,"titleY":97}}}},
{"mark":{"type":"point","filled":false,"size":27,"strokeWidth":1.1,"opacity":1},"encoding":{"shape":{"field":"f","type":"nominal","scale":{"domain":["S","R","A"],"range":["circle","M-1,0H1M0,-1V1","M0,-1.3L0.9,0L0,1.3L-0.9,0Z"]},"legend":null},"x":{"field":"g","type":"quantitative","axis":{"orient":"top","values":[0,20,40,60,80,100],"labels":false,"title":null,"domain":false}},"y":{"field":"v","type":"quantitative","axis":{"orient":"right","values":[-0.1,-0.05,0,0.05,0.1,0.15],"labels":false,"title":null,"domain":false}}}},
{"data":{"values":[{}]},"mark":{"type":"rule","strokeDash":[4,3],"strokeWidth":1},"encoding":{"y":{"datum":0,"axis":null},"color":{"value":"black"}}}
],
"resolve":{"axis":{"x":"independent","y":"independent"}}},

{"width":131,"height":234,"view":{"stroke":null},"data":{"values":[{"t":"Sel"}]},"mark":{"type":"text","font":"Liberation Serif","fontSize":20,"color":"black","dx":-21,"dy":12},"encoding":{"text":{"field":"t"}}},
{"width":299,"height":234,"data":{"name":"n3"},"transform":[{"fold":["S","R","A"],"as":["f","v"]}],
"encoding":{"color":{"field":"f","type":"nominal","scale":{"domain":["S","R","A"],"range":["#ff0000","#00ff00","#0000ff"]},"legend":{"title":null,"orient":"top-right","labelExpr":"datum.label=='S'?'Sphere':datum.label=='R'?'Rosenbrock':'Ackley'","encode":{"symbols":{"update":{"shape":{"signal":"datum.value=='S'?'M-1.65,0H-1.15M-0.85,0H-0.35M0.35,0H0.85M1.15,0H1.65M0.3,0A0.3,0.3,0,1,1,-0.3,0A0.3,0.3,0,1,1,0.3,0':datum.value=='R'?'M-1.65,0H-1.15M-0.85,0H-0.35M0.35,0H0.85M1.15,0H1.65M-0.3,0H0.3M0,-0.3V0.3':'M-1.65,0H-1.15M-0.85,0H-0.35M0.35,0H0.85M1.15,0H1.65M0,-0.42L0.3,0L0,0.42L-0.3,0Z'"},"fill":{"value":"transparent"},"strokeDash":{"value":[1,0]}}}}}}},
"layer":[
{"mark":{"type":"line","strokeDash":[4,3],"strokeWidth":1},"encoding":{"x":{"field":"g","type":"quantitative","scale":{"domain":[0,100],"nice":false},"axis":{"orient":"bottom","values":[0,20,40,60,80,100],"format":"~f","title":"Generation"}},"y":{"field":"v","type":"quantitative","scale":{"domain":[12,28],"nice":false,"zero":false},"axis":{"orient":"left","values":[12,14,16,18,20,22,24,26,28],"format":"~f","title":"λ'","titleX":-32,"titleY":110}}}},
{"mark":{"type":"point","filled":false,"size":27,"strokeWidth":1.1,"opacity":1},"encoding":{"shape":{"field":"f","type":"nominal","scale":{"domain":["S","R","A"],"range":["circle","M-1,0H1M0,-1V1","M0,-1.3L0.9,0L0,1.3L-0.9,0Z"]},"legend":null},"x":{"field":"g","type":"quantitative","axis":{"orient":"top","values":[0,20,40,60,80,100],"labels":false,"title":null,"domain":false}},"y":{"field":"v","type":"quantitative","axis":{"orient":"right","values":[12,14,16,18,20,22,24,26,28],"labels":false,"title":null,"domain":false}}}}
],
"resolve":{"axis":{"x":"independent","y":"independent"}}},
{"width":296,"height":234,"data":{"name":"n4"},"transform":[{"fold":["S","R","A"],"as":["f","v"]}],
"encoding":{"color":{"field":"f","type":"nominal","scale":{"domain":["S","R","A"],"range":["#ff0000","#00ff00","#0000ff"]},"legend":{"title":null,"orient":"top-right","labelExpr":"datum.label=='S'?'Sphere':datum.label=='R'?'Rosenbrock':'Ackley'","encode":{"symbols":{"update":{"shape":{"signal":"datum.value=='S'?'M-1.65,0H-1.15M-0.85,0H-0.35M0.35,0H0.85M1.15,0H1.65M0.3,0A0.3,0.3,0,1,1,-0.3,0A0.3,0.3,0,1,1,0.3,0':datum.value=='R'?'M-1.65,0H-1.15M-0.85,0H-0.35M0.35,0H0.85M1.15,0H1.65M-0.3,0H0.3M0,-0.3V0.3':'M-1.65,0H-1.15M-0.85,0H-0.35M0.35,0H0.85M1.15,0H1.65M0,-0.42L0.3,0L0,0.42L-0.3,0Z'"},"fill":{"value":"transparent"},"strokeDash":{"value":[1,0]}}}}}}},
"layer":[
{"mark":{"type":"line","strokeDash":[4,3],"strokeWidth":1},"encoding":{"x":{"field":"g","type":"quantitative","scale":{"domain":[0,100],"nice":false},"axis":{"orient":"bottom","values":[0,20,40,60,80,100],"format":"~f","title":"Generation"}},"y":{"field":"v","type":"quantitative","scale":{"domain":[0,12],"nice":false},"axis":{"orient":"left","values":[0,2,4,6,8,10,12],"format":"~f","title":"ρˢᵉˡ","titleFontSize":14,"titleAlign":"left","titleX":-30,"titleY":97}}}},
{"mark":{"type":"point","filled":false,"size":27,"strokeWidth":1.1,"opacity":1},"encoding":{"shape":{"field":"f","type":"nominal","scale":{"domain":["S","R","A"],"range":["circle","M-1,0H1M0,-1V1","M0,-1.3L0.9,0L0,1.3L-0.9,0Z"]},"legend":null},"x":{"field":"g","type":"quantitative","axis":{"orient":"top","values":[0,20,40,60,80,100],"labels":false,"title":null,"domain":false}},"y":{"field":"v","type":"quantitative","axis":{"orient":"right","values":[0,2,4,6,8,10,12],"labels":false,"title":null,"domain":false}}}}
],
"resolve":{"axis":{"x":"independent","y":"independent"}}},

{"width":131,"height":234,"view":{"stroke":null},"data":{"values":[{"t":"Rank"}]},"mark":{"type":"text","font":"Liberation Serif","fontSize":20,"color":"black","dx":-21,"dy":12},"encoding":{"text":{"field":"t"}}},
{"width":299,"height":234,"data":{"name":"n5"},"transform":[{"fold":["S","R","A"],"as":["f","v"]}],
"encoding":{"color":{"field":"f","type":"nominal","scale":{"domain":["S","R","A"],"range":["#ff0000","#00ff00","#0000ff"]},"legend":{"title":null,"orient":"top-right","labelExpr":"datum.label=='S'?'Sphere':datum.label=='R'?'Rosenbrock':'Ackley'","encode":{"symbols":{"update":{"shape":{"signal":"datum.value=='S'?'M-1.65,0H-1.15M-0.85,0H-0.35M0.35,0H0.85M1.15,0H1.65M0.3,0A0.3,0.3,0,1,1,-0.3,0A0.3,0.3,0,1,1,0.3,0':datum.value=='R'?'M-1.65,0H-1.15M-0.85,0H-0.35M0.35,0H0.85M1.15,0H1.65M-0.3,0H0.3M0,-0.3V0.3':'M-1.65,0H-1.15M-0.85,0H-0.35M0.35,0H0.85M1.15,0H1.65M0,-0.42L0.3,0L0,0.42L-0.3,0Z'"},"fill":{"value":"transparent"},"strokeDash":{"value":[1,0]}}}}}}},
"layer":[
{"mark":{"type":"line","strokeDash":[4,3],"strokeWidth":1},"encoding":{"x":{"field":"g","type":"quantitative","scale":{"domain":[0,100],"nice":false},"axis":{"orient":"bottom","values":[0,20,40,60,80,100],"format":"~f","title":"Generation"}},"y":{"field":"v","type":"quantitative","scale":{"domain":[10,60],"nice":false,"zero":false},"axis":{"orient":"left","values":[10,20,30,40,50,60],"format":"~f","title":"λ'","titleX":-22,"titleY":111}}}},
{"mark":{"type":"point","filled":false,"size":27,"strokeWidth":1.1,"opacity":1},"encoding":{"shape":{"field":"f","type":"nominal","scale":{"domain":["S","R","A"],"range":["circle","M-1,0H1M0,-1V1","M0,-1.3L0.9,0L0,1.3L-0.9,0Z"]},"legend":null},"x":{"field":"g","type":"quantitative","axis":{"orient":"top","values":[0,20,40,60,80,100],"labels":false,"title":null,"domain":false}},"y":{"field":"v","type":"quantitative","axis":{"orient":"right","values":[10,20,30,40,50,60],"labels":false,"title":null,"domain":false}}}}
],
"resolve":{"axis":{"x":"independent","y":"independent"}}},
{"width":296,"height":234,"data":{"name":"n6"},"transform":[{"fold":["S","R","A"],"as":["f","v"]}],
"encoding":{"color":{"field":"f","type":"nominal","scale":{"domain":["S","R","A"],"range":["#ff0000","#00ff00","#0000ff"]},"legend":{"title":null,"orient":"top-right","labelExpr":"datum.label=='S'?'Sphere':datum.label=='R'?'Rosenbrock':'Ackley'","encode":{"symbols":{"update":{"shape":{"signal":"datum.value=='S'?'M-1.65,0H-1.15M-0.85,0H-0.35M0.35,0H0.85M1.15,0H1.65M0.3,0A0.3,0.3,0,1,1,-0.3,0A0.3,0.3,0,1,1,0.3,0':datum.value=='R'?'M-1.65,0H-1.15M-0.85,0H-0.35M0.35,0H0.85M1.15,0H1.65M-0.3,0H0.3M0,-0.3V0.3':'M-1.65,0H-1.15M-0.85,0H-0.35M0.35,0H0.85M1.15,0H1.65M0,-0.42L0.3,0L0,0.42L-0.3,0Z'"},"fill":{"value":"transparent"},"strokeDash":{"value":[1,0]}}}}}}},
"layer":[
{"mark":{"type":"line","strokeDash":[4,3],"strokeWidth":1},"encoding":{"x":{"field":"g","type":"quantitative","scale":{"domain":[0,100],"nice":false},"axis":{"orient":"bottom","values":[0,20,40,60,80,100],"format":"~f","title":"Generation"}},"y":{"field":"v","type":"quantitative","scale":{"domain":[-0.3,0.4],"nice":false,"zero":false},"axis":{"orient":"left","values":[-0.3,-0.2,-0.1,0,0.1,0.2,0.3,0.4],"format":"~f","title":"ρʳᵃⁿᵏ","titleFontSize":14,"titleAlign":"left","titleX":-28,"titleY":117}}}},
{"mark":{"type":"point","filled":false,"size":27,"strokeWidth":1.1,"opacity":1},"encoding":{"shape":{"field":"f","type":"nominal","scale":{"domain":["S","R","A"],"range":["circle","M-1,0H1M0,-1V1","M0,-1.3L0.9,0L0,1.3L-0.9,0Z"]},"legend":null},"x":{"field":"g","type":"quantitative","axis":{"orient":"top","values":[0,20,40,60,80,100],"labels":false,"title":null,"domain":false}},"y":{"field":"v","type":"quantitative","axis":{"orient":"right","values":[-0.3,-0.2,-0.1,0,0.1,0.2,0.3,0.4],"labels":false,"title":null,"domain":false}}}},
{"data":{"values":[{}]},"mark":{"type":"rule","strokeDash":[4,3],"strokeWidth":1},"encoding":{"y":{"datum":0,"axis":null},"color":{"value":"black"}}}
],
"resolve":{"axis":{"x":"independent","y":"independent"}}},

{"width":131,"height":234,"view":{"stroke":null},"data":{"values":[{"t":"Corr"}]},"mark":{"type":"text","font":"Liberation Serif","fontSize":20,"color":"black","dx":-21,"dy":12},"encoding":{"text":{"field":"t"}}},
{"width":299,"height":234,"data":{"name":"n7"},"transform":[{"fold":["S","R","A"],"as":["f","v"]}],
"encoding":{"color":{"field":"f","type":"nominal","scale":{"domain":["S","R","A"],"range":["#ff0000","#00ff00","#0000ff"]},"legend":{"title":null,"orient":"top-right","labelExpr":"datum.label=='S'?'Sphere':datum.label=='R'?'Rosenbrock':'Ackley'","encode":{"symbols":{"update":{"shape":{"signal":"datum.value=='S'?'M-1.65,0H-1.15M-0.85,0H-0.35M0.35,0H0.85M1.15,0H1.65M0.3,0A0.3,0.3,0,1,1,-0.3,0A0.3,0.3,0,1,1,0.3,0':datum.value=='R'?'M-1.65,0H-1.15M-0.85,0H-0.35M0.35,0H0.85M1.15,0H1.65M-0.3,0H0.3M0,-0.3V0.3':'M-1.65,0H-1.15M-0.85,0H-0.35M0.35,0H0.85M1.15,0H1.65M0,-0.42L0.3,0L0,0.42L-0.3,0Z'"},"fill":{"value":"transparent"},"strokeDash":{"value":[1,0]}}}}}}},
"layer":[
{"mark":{"type":"line","strokeDash":[4,3],"strokeWidth":1},"encoding":{"x":{"field":"g","type":"quantitative","scale":{"domain":[0,100],"nice":false},"axis":{"orient":"bottom","values":[0,20,40,60,80,100],"format":"~f","title":"Generation"}},"y":{"field":"v","type":"quantitative","scale":{"domain":[10,80],"nice":false,"zero":false},"axis":{"orient":"left","values":[10,20,30,40,50,60,70,80],"format":"~f","title":"λ","titleX":-22,"titleY":119}}}},
{"mark":{"type":"point","filled":false,"size":27,"strokeWidth":1.1,"opacity":1},"encoding":{"shape":{"field":"f","type":"nominal","scale":{"domain":["S","R","A"],"range":["circle","M-1,0H1M0,-1V1","M0,-1.3L0.9,0L0,1.3L-0.9,0Z"]},"legend":null},"x":{"field":"g","type":"quantitative","axis":{"orient":"top","values":[0,20,40,60,80,100],"labels":false,"title":null,"domain":false}},"y":{"field":"v","type":"quantitative","axis":{"orient":"right","values":[10,20,30,40,50,60,70,80],"labels":false,"title":null,"domain":false}}}}
],
"resolve":{"axis":{"x":"independent","y":"independent"}}},
{"width":296,"height":234,"data":{"name":"n8"},"transform":[{"fold":["S","R","A"],"as":["f","v"]}],
"encoding":{"color":{"field":"f","type":"nominal","scale":{"domain":["S","R","A"],"range":["#ff0000","#00ff00","#0000ff"]},"legend":{"title":null,"orient":"top-right","labelExpr":"datum.label=='S'?'Sphere':datum.label=='R'?'Rosenbrock':'Ackley'","encode":{"symbols":{"update":{"shape":{"signal":"datum.value=='S'?'M-1.65,0H-1.15M-0.85,0H-0.35M0.35,0H0.85M1.15,0H1.65M0.3,0A0.3,0.3,0,1,1,-0.3,0A0.3,0.3,0,1,1,0.3,0':datum.value=='R'?'M-1.65,0H-1.15M-0.85,0H-0.35M0.35,0H0.85M1.15,0H1.65M-0.3,0H0.3M0,-0.3V0.3':'M-1.65,0H-1.15M-0.85,0H-0.35M0.35,0H0.85M1.15,0H1.65M0,-0.42L0.3,0L0,0.42L-0.3,0Z'"},"fill":{"value":"transparent"},"strokeDash":{"value":[1,0]}}}}}}},
"layer":[
{"mark":{"type":"line","strokeDash":[4,3],"strokeWidth":1},"encoding":{"x":{"field":"g","type":"quantitative","scale":{"domain":[0,100],"nice":false},"axis":{"orient":"bottom","values":[0,20,40,60,80,100],"format":"~f","title":"Generation"}},"y":{"field":"v","type":"quantitative","scale":{"domain":[-0.3,0.5],"nice":false,"zero":false},"axis":{"orient":"left","values":[-0.3,-0.2,-0.1,0,0.1,0.2,0.3,0.4,0.5],"format":"~f","title":"ρᶜᵒʳʳ","titleFontSize":13,"titleAlign":"left","titleX":-27,"titleY":131}}}},
{"mark":{"type":"point","filled":false,"size":27,"strokeWidth":1.1,"opacity":1},"encoding":{"shape":{"field":"f","type":"nominal","scale":{"domain":["S","R","A"],"range":["circle","M-1,0H1M0,-1V1","M0,-1.3L0.9,0L0,1.3L-0.9,0Z"]},"legend":null},"x":{"field":"g","type":"quantitative","axis":{"orient":"top","values":[0,20,40,60,80,100],"labels":false,"title":null,"domain":false}},"y":{"field":"v","type":"quantitative","axis":{"orient":"right","values":[-0.3,-0.2,-0.1,0,0.1,0.2,0.3,0.4,0.5],"labels":false,"title":null,"domain":false}}}},
{"data":{"values":[{}]},"mark":{"type":"rule","strokeDash":[4,3],"strokeWidth":1},"encoding":{"y":{"datum":0,"axis":null},"color":{"value":"black"}}}
],
"resolve":{"axis":{"x":"independent","y":"independent"}}}
]
}
